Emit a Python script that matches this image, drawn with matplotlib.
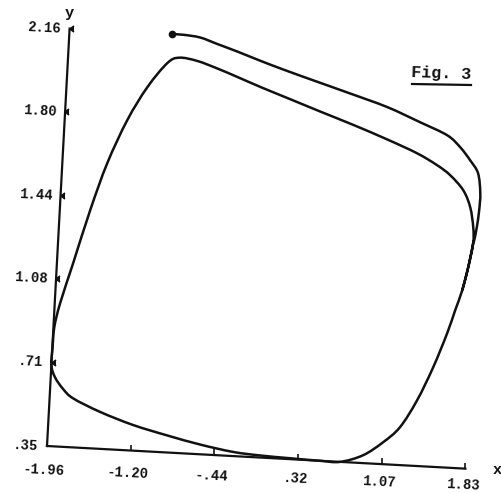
import matplotlib
matplotlib.use("Agg")
from matplotlib import pyplot as plt
from matplotlib.transforms import Affine2D
from matplotlib.lines import Line2D
from matplotlib.path import Path
from matplotlib.patches import PathPatch

# tick values and their printed labels
x_ticks = [-1.96, -1.202, -0.444, 0.314, 1.072, 1.83]
x_labels = ["-1.96", "-1.20", "-.44", ".32", "1.07", "1.83"]
y_ticks = [0.35, 0.712, 1.074, 1.436, 1.798, 2.16]
y_labels = [".35", ".71", "1.08", "1.44", "1.80", "2.16"]

# transient part, from the start dot until it joins the cycle
start_x = [-1.03, -0.93, -0.775, -0.618, -0.433, -0.249, -0.009, 0.304, 0.607, 0.948,
           1.253, 1.504, 1.627, 1.723, 1.800, 1.830, 1.828, 1.815, 1.798, 1.790]
start_y = [2.16, 2.16, 2.152, 2.128, 2.100, 2.070, 2.033, 1.988, 1.945, 1.895,
           1.837, 1.787, 1.738, 1.684, 1.630, 1.544, 1.470, 1.396, 1.339, 1.326]

# one turn of the limit cycle
cycle_x = [1.790, 1.757, 1.714, 1.660, 1.599, 1.489, 1.360, 1.219, 1.074, 0.899,
           0.695, 0.513, 0.238, -0.033, -0.277, -0.576, -0.881, -1.193, -1.498, -1.747,
           -1.842, -1.920, -1.960, -1.958, -1.952, -1.911, -1.813, -1.685, -1.554, -1.394,
           -1.229, -1.060, -0.955, -0.790, -0.605, -0.420, -0.206, 0.070, 0.345, 0.650,
           0.964, 1.241, 1.428, 1.550, 1.675, 1.746, 1.783, 1.790, 1.757, 1.714]
cycle_y = [1.326, 1.221, 1.120, 1.032, 0.931, 0.780, 0.634, 0.514, 0.445, 0.384,
           0.350, 0.350, 0.354, 0.359, 0.368, 0.392, 0.424, 0.461, 0.510, 0.562,
           0.600, 0.648, 0.700, 0.780, 0.866, 0.971, 1.147, 1.380, 1.587, 1.778,
           1.925, 2.034, 2.060, 2.050, 2.022, 1.990, 1.952, 1.906, 1.860, 1.810,
           1.755, 1.702, 1.655, 1.615, 1.553, 1.481, 1.395, 1.326, 1.221, 1.120]

mono = dict(family="Liberation Mono", weight="bold", color="#111111")


def smooth_path(xs, ys):
    # catmull-rom through the read points, as cubic bezier segments
    p = list(zip(xs, ys))
    verts = [p[0]]
    codes = [Path.MOVETO]
    for i in range(len(p) - 1):
        a = p[max(i - 1, 0)]
        b, c = p[i], p[i + 1]
        d = p[min(i + 2, len(p) - 1)]
        c1 = (b[0] + (c[0] - a[0]) / 6, b[1] + (c[1] - a[1]) / 6)
        c2 = (c[0] - (d[0] - b[0]) / 6, c[1] - (d[1] - b[1]) / 6)
        verts += [c1, c2, c]
        codes += [Path.CURVE4] * 3
    return Path(verts, codes)


fig = plt.figure(figsize=(5.01, 4.93), dpi=100)
ax = fig.add_axes([47 / 501, 47 / 493, 419 / 501, 418 / 493])
ax.set_xlim(x_ticks[0], x_ticks[-1])
ax.set_ylim(y_ticks[0], y_ticks[-1])
ax.axis("off")

# the scanned page is tilted a little clockwise
ox, oy = ax.transData.transform((x_ticks[0], y_ticks[0]))
rot = ax.transData + Affine2D().rotate_deg_around(ox, oy, -3.1)
rot_lab = ax.transData + Affine2D().rotate_deg_around(ox, oy, -2.1)
tilt = -3

kw = dict(color="#111111", transform=rot, clip_on=False)
ax.plot([x_ticks[0], x_ticks[-1]], [y_ticks[0], y_ticks[0]], lw=1.6, **kw)
ax.plot([x_ticks[0], x_ticks[0]], [y_ticks[0], y_ticks[-1]], lw=1.6, **kw)
ax.plot(x_ticks[1:], [y_ticks[0]] * 5, ls="none", marker=2, ms=4, mew=1.2, **kw)
ax.plot([x_ticks[0]] * 5, y_ticks[1:], ls="none", marker=4, ms=4, mew=1.2, **kw)

traj = smooth_path(start_x + cycle_x[1:], start_y + cycle_y[1:])
ax.add_patch(PathPatch(traj, fill=False, lw=1.8, ec="#111111", transform=rot, clip_on=False))
ax.plot(start_x[:1], start_y[:1], ls="none", marker="o", ms=4.5, **kw)

for v, s in zip(x_ticks, x_labels):
    ax.annotate(s, (v, y_ticks[0]), xycoords=rot_lab, xytext=(-2, -17), textcoords="offset points",
                ha="center", va="center", fontsize=10, rotation=tilt, rotation_mode="anchor", **mono)
for v, s in zip(y_ticks, y_labels):
    ax.annotate(s, (x_ticks[0], v), xycoords=rot, xytext=(-6, 0), textcoords="offset points",
                ha="right", va="center", fontsize=10, rotation=tilt, rotation_mode="anchor", **mono)

ax.annotate("y", (x_ticks[0], y_ticks[-1]), xycoords=rot, xytext=(0, 11), textcoords="offset points",
            ha="center", va="center", fontsize=11, **mono)
ax.annotate("x", (x_ticks[-1], y_ticks[0]), xycoords=rot, xytext=(23, -1), textcoords="offset points",
            ha="center", va="center", fontsize=11, **mono)

fig.text(441 / 501, 1 - 74 / 493, "Fig. 3", ha="center", va="center", fontsize=12,
         rotation=-2, **mono)
fig.add_artist(Line2D([412 / 501, 471 / 501], [1 - 84 / 493, 1 - 85 / 493], lw=1.6, color="#111111"))

fig.savefig("out.png", dpi=100, facecolor="white")
